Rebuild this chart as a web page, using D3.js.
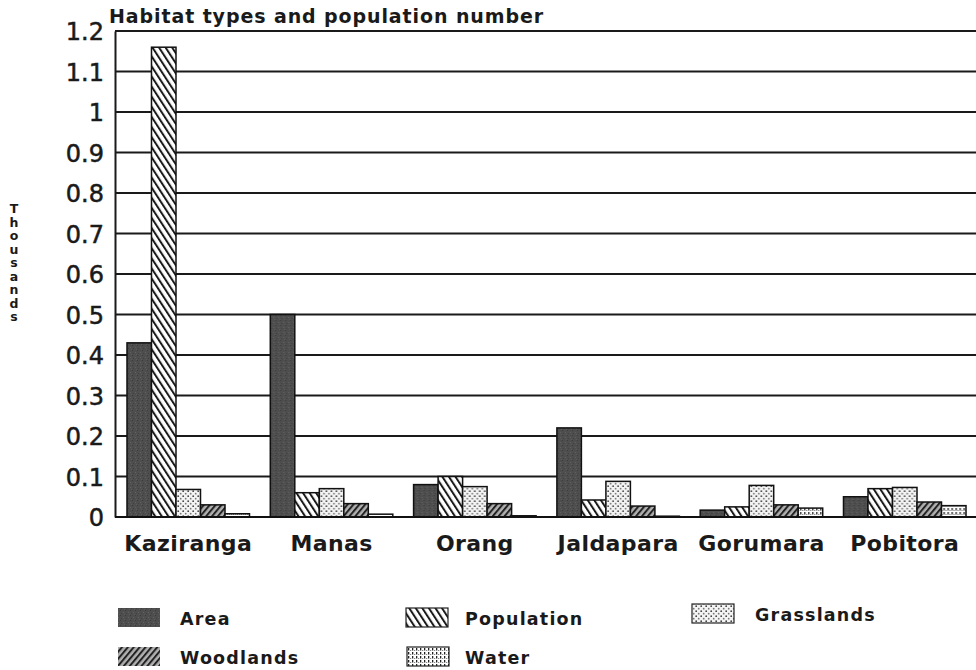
<!DOCTYPE html>
<html><head><meta charset="utf-8">
<script src="https://cdn.jsdelivr.net/npm/d3@7"></script>
<style>
html,body{margin:0;padding:0;background:#fff;}
svg{display:block;}
text{font-family:"DejaVu Sans",sans-serif;fill:#1a1a1a;}
</style></head>
<body><svg id="c" width="976" height="670"></svg>
<script>
const categories = ["Kaziranga","Manas","Orang","Jaldapara","Gorumara","Pobitora"];
const seriesNames = ["Area","Population","Grasslands","Woodlands","Water"];
const area       = [0.43, 0.50, 0.08, 0.22, 0.017, 0.05];
const population = [1.16, 0.06, 0.10, 0.042, 0.025, 0.07];
const grasslands = [0.068, 0.07, 0.075, 0.088, 0.078, 0.073];
const woodlands  = [0.03, 0.033, 0.033, 0.027, 0.03, 0.037];
const water      = [0.008, 0.007, 0.003, 0.002, 0.022, 0.028];
const tickValues = [0,0.1,0.2,0.3,0.4,0.5,0.6,0.7,0.8,0.9,1,1.1,1.2];
const tickLabels = ["0","0.1","0.2","0.3","0.4","0.5","0.6","0.7","0.8","0.9","1","1.1","1.2"];
const titleText = "Habitat types and population number";
const yTitle = "Thousands";

const seriesValues = [area, population, grasslands, woodlands, water];
const rows = categories.map((c,i)=>({cat:c, vals: seriesNames.map((s,j)=>({key:s, idx:j, v:seriesValues[j][i]}))}));

const svg = d3.select("#c");
const defs = svg.append("defs");

// Area: dark speckled grey
let p = defs.append("pattern").attr("id","pat0").attr("patternUnits","userSpaceOnUse").attr("width",5).attr("height",5);
p.append("rect").attr("width",5).attr("height",5).attr("fill","#4e4e4e");
p.append("rect").attr("x",0).attr("y",0).attr("width",1).attr("height",1).attr("fill","#3a3a3a");
p.append("rect").attr("x",3).attr("y",2).attr("width",1).attr("height",1).attr("fill","#626262");
p.append("rect").attr("x",1).attr("y",3).attr("width",1).attr("height",1).attr("fill","#404040");
p.append("rect").attr("x",4).attr("y",4).attr("width",1).attr("height",1).attr("fill","#5c5c5c");
// Population: backslash hatch
p = defs.append("pattern").attr("id","pat1").attr("patternUnits","userSpaceOnUse").attr("width",5.5).attr("height",5.5)
  .attr("patternTransform","rotate(-33)");
p.append("rect").attr("width",5.5).attr("height",5.5).attr("fill","#fff");
p.append("rect").attr("x",0).attr("y",0).attr("width",2).attr("height",5.5).attr("fill","#1a1a1a");
// Grasslands: dots
p = defs.append("pattern").attr("id","pat2").attr("patternUnits","userSpaceOnUse").attr("width",5).attr("height",5);
p.append("rect").attr("width",5).attr("height",5).attr("fill","#f4f4f4");
p.append("circle").attr("cx",1.2).attr("cy",1.2).attr("r",0.9).attr("fill","#444");
p.append("circle").attr("cx",3.7).attr("cy",3.7).attr("r",0.9).attr("fill","#777");
// Woodlands: dense slash hatch
p = defs.append("pattern").attr("id","pat3").attr("patternUnits","userSpaceOnUse").attr("width",4.5).attr("height",4.5)
  .attr("patternTransform","rotate(40)");
p.append("rect").attr("width",4.5).attr("height",4.5).attr("fill","#b0b0b0");
p.append("rect").attr("x",0).attr("y",0).attr("width",2).attr("height",4.5).attr("fill","#222");
// Water: dotted vertical lines
p = defs.append("pattern").attr("id","pat4").attr("patternUnits","userSpaceOnUse").attr("width",4).attr("height",4);
p.append("rect").attr("width",4).attr("height",4).attr("fill","#fff");
p.append("rect").attr("x",0).attr("y",0).attr("width",1.3).attr("height",2.5).attr("fill","#222");
p.append("circle").attr("cx",2.7).attr("cy",2.5).attr("r",0.6).attr("fill","#555");

const fills = seriesNames.map((s,i)=>"url(#pat"+i+")");

const xLeft = 115, yZero = 517, yTop = 31;
const y = d3.scaleLinear().domain([0,1.2]).range([yZero, yTop]);
const x0 = d3.scaleBand().domain(categories).range([116.6, 976.4]).paddingInner(0.145).paddingOuter(0.0725);
const x1 = d3.scaleBand().domain(seriesNames).range([0, x0.bandwidth()]);

// Gridlines
svg.append("g").selectAll("line").data(tickValues).join("line")
  .attr("x1", xLeft).attr("x2", 976)
  .attr("y1", d=>y(d)).attr("y2", d=>y(d))
  .attr("stroke","#1a1a1a").attr("stroke-width",2);

// Y axis with labels
const yAxis = d3.axisLeft(y).tickValues(tickValues).tickFormat((d,i)=>tickLabels[i]).tickSize(0).tickPadding(11);
const ga = svg.append("g").attr("transform",`translate(${xLeft},0)`).call(yAxis);
ga.select(".domain").attr("stroke","#1a1a1a").attr("stroke-width",2);
ga.selectAll("text").attr("font-size",24).attr("font-family","DejaVu Sans, sans-serif")
  .attr("fill","#1a1a1a").attr("stroke","#1a1a1a").attr("stroke-width",0.5).attr("dy","0.36em");

// Bars
const gb = svg.append("g").selectAll("g").data(rows).join("g")
  .attr("transform", d=>`translate(${x0(d.cat)},0)`);
gb.selectAll("rect").data(d=>d.vals).join("rect")
  .attr("x", d=>x1(d.key)).attr("width", x1.bandwidth())
  .attr("y", d=>y(d.v)).attr("height", d=>y(0)-y(d.v))
  .attr("fill", d=>fills[d.idx]).attr("stroke","#111").attr("stroke-width",1.5);

// Baseline
svg.append("line").attr("x1",xLeft).attr("x2",976).attr("y1",y(0)).attr("y2",y(0)).attr("stroke","#111").attr("stroke-width",2);

// X axis labels
const xAxis = d3.axisBottom(x0).tickSize(0).tickPadding(18);
const gx = svg.append("g").attr("transform",`translate(0,${yZero})`).call(xAxis);
gx.select(".domain").remove();
gx.selectAll("text").attr("font-size",22).attr("font-weight","bold").attr("font-family","DejaVu Sans, sans-serif")
  .attr("letter-spacing",0.4).attr("fill","#1a1a1a");

// Title
svg.append("text").attr("x",109).attr("y",23).attr("font-size",19).attr("font-weight","bold")
  .attr("letter-spacing",0.9).text(titleText);

// Y title: stacked letters
svg.append("g").selectAll("text").data(yTitle.split("")).join("text")
  .attr("x",14).attr("y",(d,i)=>213+i*13.5).attr("text-anchor","middle")
  .attr("font-size",12.5).attr("font-weight","bold").text(d=>d);

// Legend
const legendPos = [
  {sx:118, sy:608, tx:180},
  {sx:406, sy:608, tx:465},
  {sx:692, sy:604, tx:755},
  {sx:118, sy:647, tx:180},
  {sx:407, sy:647, tx:465}
];
const lg = svg.append("g").selectAll("g").data(seriesNames).join("g");
lg.append("rect").attr("x",(d,i)=>legendPos[i].sx).attr("y",(d,i)=>legendPos[i].sy)
  .attr("width",42).attr("height",19).attr("fill",(d,i)=>fills[i])
  .attr("stroke",(d,i)=> i===0||i===3 ? "none" : "#222").attr("stroke-width",1.2);
lg.append("text").attr("x",(d,i)=>legendPos[i].tx).attr("y",(d,i)=>legendPos[i].sy+17)
  .attr("font-size",17.5).attr("font-weight","bold").attr("letter-spacing",1.2).text(d=>d);
</script></body></html>
